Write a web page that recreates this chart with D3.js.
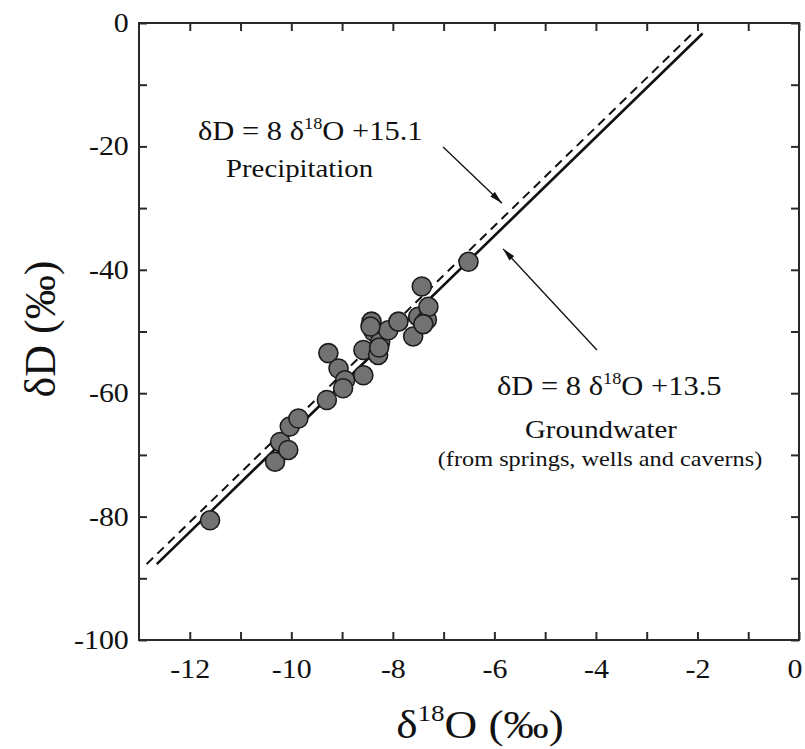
<!DOCTYPE html>
<html>
<head>
<meta charset="utf-8">
<script src="https://cdn.jsdelivr.net/npm/d3@7"></script>
<style>
  html, body { margin: 0; padding: 0; background: #fff; }
  svg { display: block; }
  text { font-family: "Liberation Serif", "Times New Roman", serif; fill: #111; }
</style>
</head>
<body>
<svg id="chart" width="805" height="749"></svg>
<script>
// Isotope samples: δ18O (‰) and δD (‰)
const o18 = [-11.60, -10.32, -10.22, -10.06, -10.03, -9.86, -9.30, -9.27, -9.07, -8.94,
             -8.98, -8.58, -8.58, -8.42, -8.38, -8.25, -8.29, -8.09, -7.89, -7.60,
             -7.50, -7.33, -7.30, -7.43, -6.51, -8.27, -7.40, -8.44];
const dD  = [-80.6, -71.1, -67.9, -69.2, -65.4, -64.1, -61.1, -53.5, -56.0, -57.9,
             -59.2, -53.0, -57.1, -48.4, -50.0, -51.7, -53.8, -49.8, -48.4, -50.8,
             -47.6, -48.1, -46.0, -42.7, -38.7, -52.6, -48.8, -49.2];

// Regression lines: δD = slope·δ18O + intercept, drawn over [start, end]
const lineNames   = ["Precipitation", "Groundwater"];
const slopes      = [8, 8];
const intercepts  = [15.1, 13.5];
const lineStarts  = [-12.85, -12.65];
const lineEnds    = [-2.05, -1.90];

const xTicks = d3.range(-12, 1, 1);
const xTickLabels = [-12, -10, -8, -6, -4, -2, 0];
const yTicks = d3.range(-100, 1, 10);
const yTickLabels = [-100, -80, -60, -40, -20, 0];

const svg = d3.select("#chart");
const plotL = 139, plotR = 799, plotT = 23, plotB = 640;
const STRETCH = 1.13;

const x = d3.scaleLinear().domain([-13, 0]).range([plotL, plotR]);
const y = d3.scaleLinear().domain([-100, 0]).range([plotB, plotT]);

const axisColor = "#2a2a2a";

// Frame
svg.append("rect")
  .attr("x", plotL).attr("y", plotT)
  .attr("width", plotR - plotL).attr("height", plotB - plotT)
  .attr("fill", "none").attr("stroke", axisColor).attr("stroke-width", 2);

function styleAxis(g) {
  g.select(".domain").remove();
  g.selectAll(".tick line").attr("stroke", axisColor).attr("stroke-width", 2);
  g.selectAll(".tick text").attr("font-family", "Liberation Serif").attr("font-size", 26.5).attr("fill", "#111");
}

// Bottom axis with inward ticks; the last label is nudged inside the page edge
svg.append("g").attr("transform", `translate(0,${plotB})`)
  .call(d3.axisBottom(x).tickValues(xTicks).tickSizeInner(-8).tickSizeOuter(0).tickPadding(19)
    .tickFormat(d => xTickLabels.includes(d) ? String(d) : ""))
  .call(styleAxis)
  .call(g => g.selectAll(".tick text")
    .attr("transform", `scale(${STRETCH},1)`)
    .attr("dx", d => d === 0 ? -4 : 0));

// Top axis, ticks only
svg.append("g").attr("transform", `translate(0,${plotT})`)
  .call(d3.axisTop(x).tickValues(xTicks).tickSizeInner(-8).tickSizeOuter(0).tickFormat(""))
  .call(styleAxis);

// Left axis
svg.append("g").attr("transform", `translate(${plotL},0)`)
  .call(d3.axisLeft(y).tickValues(yTicks).tickSizeInner(-8).tickSizeOuter(0).tickPadding(9)
    .tickFormat(d => yTickLabels.includes(d) ? String(d) : ""))
  .call(styleAxis)
  .call(g => g.selectAll(".tick text").attr("transform", `scale(${STRETCH},1)`));

// Right axis, ticks only
svg.append("g").attr("transform", `translate(${plotR},0)`)
  .call(d3.axisRight(y).tickValues(yTicks).tickSizeInner(-8).tickSizeOuter(0).tickFormat(""))
  .call(styleAxis);

// Regression lines
const lineGen = d3.line().x(d => x(d[0])).y(d => y(d[1]));
lineNames.forEach((name, i) => {
  const pts = [lineStarts[i], lineEnds[i]].map(v => [v, slopes[i] * v + intercepts[i]]);
  svg.append("path")
    .attr("d", lineGen(pts))
    .attr("fill", "none")
    .attr("stroke", "#111")
    .attr("stroke-width", name === "Groundwater" ? 2.6 : 2)
    .attr("stroke-dasharray", name === "Precipitation" ? "9,6" : null);
});

// Samples
svg.append("g").selectAll("circle")
  .data(o18.map((v, i) => [v, dD[i]]))
  .join("circle")
  .attr("cx", d => x(d[0])).attr("cy", d => y(d[1]))
  .attr("r", 9.5)
  .attr("fill", "#727272")
  .attr("stroke", "#1c1c1c")
  .attr("stroke-width", 1.6);

// Arrowhead
svg.append("defs").append("marker")
  .attr("id", "arrow").attr("viewBox", "0 0 12 6")
  .attr("refX", 12).attr("refY", 3)
  .attr("markerWidth", 13).attr("markerHeight", 6.5)
  .attr("markerUnits", "userSpaceOnUse")
  .attr("orient", "auto")
  .append("path").attr("d", "M0,0 L12,3 L0,6 Z").attr("fill", "#111");

// Annotation arrows (data coordinates)
const arrowFrom = [[-7.01, -20.1], [-3.98, -53.0]];
const arrowTo   = [[-5.85, -29.2], [-5.83, -36.6]];
arrowFrom.forEach((f, i) => {
  svg.append("line")
    .attr("x1", x(f[0])).attr("y1", y(f[1]))
    .attr("x2", x(arrowTo[i][0])).attr("y2", y(arrowTo[i][1]))
    .attr("stroke", "#111").attr("stroke-width", 1.3)
    .attr("marker-end", "url(#arrow)");
});

// Text helpers
function label(px, py, size, anchor) {
  return svg.append("text")
    .attr("transform", `translate(${px},${py}) scale(${STRETCH},1)`)
    .attr("font-size", size)
    .attr("text-anchor", anchor);
}
function equation(px, py, size, intercept) {
  const t = label(px, py, size, "start");
  t.append("tspan").text("δD = 8 δ");
  t.append("tspan").attr("font-size", size * 0.6).attr("dy", -size * 0.42).text("18");
  t.append("tspan").attr("dy", size * 0.42).text("O +" + intercept.toFixed(1));
  return t;
}

equation(198, 140, 27, intercepts[0]);
label(226, 177, 25.5, "start").text("Precipitation");

equation(497, 395, 27, intercepts[1]);
label(601, 438, 25.5, "middle").text("Groundwater");
label(600, 466, 21.5, "middle").text("(from springs, wells and caverns)");

// Axis titles
const xt = label(480, 738, 40, "middle");
xt.append("tspan").text("δ");
xt.append("tspan").attr("font-size", 24).attr("dy", -17).text("18");
xt.append("tspan").attr("dy", 17).text("O (‰)");

svg.append("text")
  .attr("transform", `translate(55,329) rotate(-90)`)
  .attr("font-size", 44)
  .attr("text-anchor", "middle")
  .text("δD (‰)");
</script>
</body>
</html>
